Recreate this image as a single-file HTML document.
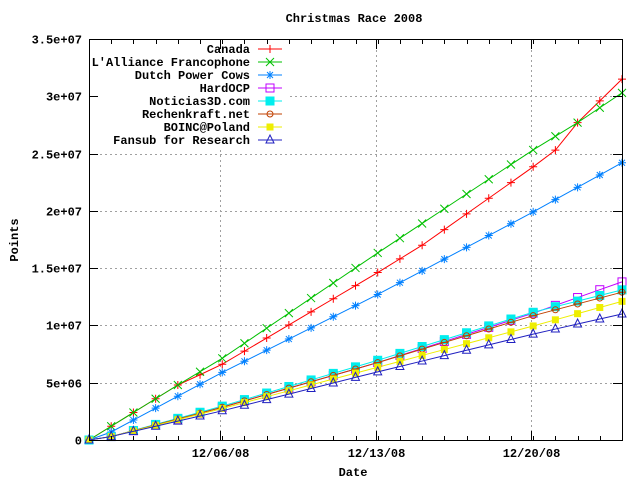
<!DOCTYPE html>
<html><head><style>
body{margin:0;background:#fff}
svg text{font-family:"Liberation Mono",monospace;font-size:12px;font-weight:bold;fill:#000}
</style></head><body>
<svg id="s" width="640" height="480" xmlns="http://www.w3.org/2000/svg">
<rect width="640" height="480" fill="#fff"/>
<g id="grid" stroke="#a0a0a0" stroke-dasharray="2,3" stroke-width="1"></g>
<g id="series"></g>
<rect x="90" y="40" width="198" height="107" fill="#fff"/>
<rect x="89.5" y="39.5" width="533" height="401" fill="none" stroke="#000"/>
<g id="ticks" stroke="#000"></g>
<g id="labels"></g>
<text x="354" y="22" text-anchor="middle">Christmas Race 2008</text>
<text x="353" y="476" text-anchor="middle">Date</text>
<text transform="translate(18,240) rotate(-90)" text-anchor="middle">Points</text>
<g id="legend"></g>
</svg>
<script>
const NS="http://www.w3.org/2000/svg";
function el(p,t,a,txt){const e=document.createElementNS(NS,t);for(const k in a)e.setAttribute(k,a[k]);if(txt)e.textContent=txt;document.getElementById(p).appendChild(e);return e;}
const X0=89,X1=622,Y0=440,YS=(440-39)/35;
const xd=i=>X0+i*(X1-X0)/24;
const yv=v=>Y0-v*YS;
const yl=["0","5e+06","1e+07","1.5e+07","2e+07","2.5e+07","3e+07","3.5e+07"];
for(let k=0;k<8;k++){const y=Math.round(yv(k*5))+0.5;
 if(k>0&&k<7) el("grid","line",{x1:90,x2:622,y1:y,y2:y});
 if(k>0&&k<7){
 el("ticks","line",{x1:89,x2:98,y1:y,y2:y});el("ticks","line",{x1:613,x2:622,y1:y,y2:y});}
 el("labels","text",{x:82,y:y+4,"text-anchor":"end"},yl[k]);}
const xt=[[220.5,"12/06/08"],[376.5,"12/13/08"],[531.5,"12/20/08"]];
for(const [x,l] of xt){el("grid","line",{x1:x,x2:x,y1:40,y2:440});
 el("ticks","line",{x1:x,x2:x,y1:440,y2:431});el("ticks","line",{x1:x,x2:x,y1:40,y2:49});
 el("labels","text",{x:x,y:457,"text-anchor":"middle"},l);}
for(let i=1;i<24;i++){const x=Math.round(xd(i))+0.5;el("ticks","line",{x1:x,x2:x,y1:440,y2:436});el("ticks","line",{x1:x,x2:x,y1:40,y2:44});}
function interp(anch){const out=[];for(let i=0;i<=24;i++){for(let j=0;j<anch.length-1;j++){const [a,va]=anch[j],[b,vb]=anch[j+1];if(i>=a&&i<=b){out.push(va+(vb-va)*(i-a)/(b-a));break;}}}return out;}
const S=[
["Canada","#ff0000","plus",[[0,0],[4,4.8],[5.9,6.5],[12.9,14.5],[15,17],[19.9,23.7],[21,25.3],[22,27.7],[23,29.6],[24,31.5]]],
["L'Alliance Francophone","#00c000","x",[[0,0],[4,4.8],[5.9,7.0],[12.9,16.2],[19.9,25.2],[22,27.7],[24,30.3]]],
["Dutch Power Cows","#0080ff","star",[[0,0],[1,0.7],[5.9,5.8],[12.9,12.6],[19.9,19.8],[24,24.2]]],
["HardOCP","#c000ff","osq",[[0,0],[1,0.3],[5.9,2.8],[12.9,6.7],[19.9,11.0],[24,13.8]]],
["Noticias3D.com","#00eeee","fsq",[[0,0],[1,0.3],[5.9,2.9],[12.9,6.9],[19.9,11.1],[24,13.1]]],
["Rechenkraft.net","#c04000","ocirc",[[0,0],[1,0.3],[5.9,2.8],[12.9,6.7],[19.9,10.8],[24,12.9]]],
["BOINC@Poland","#eeee00","fsm",[[0,0],[1,0.3],[5.9,2.7],[12.9,6.3],[19.9,9.9],[24,12.1]]],
["Fansub for Research","#2020c0","tri",[[0,0],[1,0.3],[5.9,2.5],[12.9,5.9],[19.9,9.2],[24,11.0]]]];
function marker(g,t,x,y,c){
 const a={stroke:c,fill:"none","stroke-width":1};
 const add=(tag,at)=>{const e=document.createElementNS(NS,tag);for(const k in a)e.setAttribute(k,a[k]);for(const k in at)e.setAttribute(k,at[k]);g.appendChild(e);};
 if(t=="plus"){add("path",{d:`M${x-4},${y}h8M${x},${y-4}v8`});}
 if(t=="x"){add("path",{d:`M${x-4},${y-4}l8,8M${x-4},${y+4}l8,-8`});}
 if(t=="star"){add("path",{d:`M${x-4},${y}h8M${x},${y-4}v8M${x-3},${y-3}l6,6M${x-3},${y+3}l6,-6`});}
 if(t=="osq"){add("rect",{x:x-4,y:y-4,width:8,height:8});}
 if(t=="fsq"){add("rect",{x:x-4,y:y-4,width:8,height:8,fill:c});}
 if(t=="ocirc"){add("circle",{cx:x,cy:y,r:3});add("path",{d:`M${x-4},${y}h8`});}
 if(t=="fsm"){add("rect",{x:x-3,y:y-3,width:6,height:6,fill:c});}
 if(t=="tri"){add("path",{d:`M${x},${y-5}L${x+4},${y+3}H${x-4}Z`});}
}
const sg=document.getElementById("series");
S.forEach((s,k)=>{const v=interp(s[3]);const pts=v.map((q,i)=>[xd(i),yv(q)]);
 const g=document.createElementNS(NS,"g");sg.appendChild(g);
 const pl=document.createElementNS(NS,"polyline");pl.setAttribute("points",pts.map(p=>p.join(",")).join(" "));pl.setAttribute("fill","none");pl.setAttribute("stroke",s[1]);g.appendChild(pl);
 pts.forEach(p=>marker(g,s[2],p[0],p[1],s[1]));
 const ly=49+k*13;
 el("legend","text",{x:250,y:ly+4,"text-anchor":"end"},s[0]);
 el("legend","line",{x1:258,x2:282,y1:ly,y2:ly,stroke:s[1]});
 const lg=document.getElementById("legend");const mg=document.createElementNS(NS,"g");lg.appendChild(mg);marker(mg,s[2],270,ly,s[1]);
});
</script>
</body></html>
